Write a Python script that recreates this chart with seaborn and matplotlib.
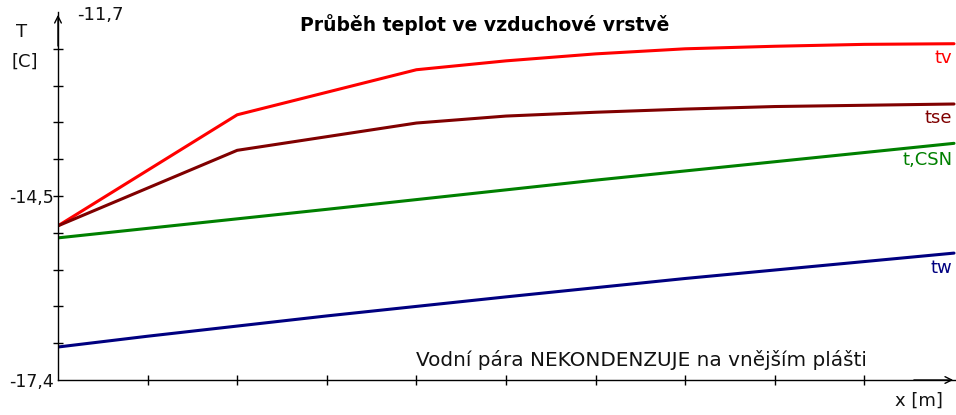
import matplotlib
matplotlib.use("Agg")
import matplotlib.pyplot as plt
import seaborn as sns
import pandas as pd

# ---- data ----
tv_x = [0, 2, 4, 5, 6, 7, 8, 9, 10]
tv_y = [-14.97, -13.22, -12.51, -12.37, -12.26, -12.18, -12.14, -12.11, -12.10]

tse_x = [0, 2, 4, 5, 6, 7, 8, 9, 10]
tse_y = [-14.97, -13.78, -13.35, -13.24, -13.18, -13.13, -13.09, -13.07, -13.05]

tcsn_x = [0, 3, 6, 10]
tcsn_y = [-15.16, -14.71, -14.25, -13.67]

tw_x = [0, 1, 3, 5, 7, 10]
tw_y = [-16.88, -16.71, -16.39, -16.09, -15.80, -15.40]

series_names = ["tv", "tse", "t,CSN", "tw"]
series_colors = ["#ff0000", "#800000", "#008000", "#000080"]

y_min, y_max = -17.4, -11.7
y_step = 0.58
y_tick_labels = {0: "-17,4", 5: "-14,5"}

title = "Průběh teplot ve vzduchové vrstvě"
note = "Vodní pára NEKONDENZUJE na vnějším plášti"
x_label = "x [m]"
y_label_1 = "T"
y_label_2 = "[C]"
y_top_label = "-11,7"

# ---- build table ----
frames = []
for name, xs, ys in zip(series_names,
                        [tv_x, tse_x, tcsn_x, tw_x],
                        [tv_y, tse_y, tcsn_y, tw_y]):
    frames.append(pd.DataFrame({"x": xs, "T": ys, "series": name}))
df = pd.concat(frames, ignore_index=True)

sns.set_theme(style="white")
plt.rcParams["font.family"] = ["DejaVu Sans"]

FS = 13
TXT = "#111111"

W, H = 956, 415
fig = plt.figure(figsize=(W / 100, H / 100), dpi=100)
fig.patch.set_facecolor("white")

ax_left, ax_right = 58, 956
ax_bottom, ax_top = 380, 12
ax = fig.add_axes([ax_left / W, 1 - ax_bottom / H,
                   (ax_right - ax_left) / W, (ax_bottom - ax_top) / H])
ax.set_facecolor("white")

palette = dict(zip(series_names, series_colors))
sns.lineplot(data=df, x="x", y="T", hue="series", palette=palette,
             estimator=None, sort=True, linewidth=2.2, legend=False, ax=ax)

# scales: x from 0 to 10 ticks (span 896 px for 10 units)
x_per_px = 10 / (954 - 58)
ax.set_xlim(0, (ax_right - ax_left) * x_per_px)
T_per_px = (-14.5 - y_min) / (380 - 196)
ax.set_ylim(y_min, y_min + (ax_bottom - ax_top) * T_per_px)

for s in ["top", "right"]:
    ax.spines[s].set_visible(False)
for s in ["left", "bottom"]:
    ax.spines[s].set_color("black")
    ax.spines[s].set_linewidth(1.0)

yt = [y_min + k * y_step for k in range(10)]
ax.set_yticks(yt)
ax.set_yticklabels([y_tick_labels.get(k, "") for k in range(10)])
ax.set_xticks(list(range(1, 10)))
ax.set_xticklabels([])
ax.tick_params(axis="both", direction="inout", length=6.5, width=1.0,
               color="black", labelsize=FS - 0.5, pad=0, labelcolor=TXT,
               left=True, bottom=True)
ax.yaxis.get_major_ticks()[0].tick1line.set_visible(False)
ax.set_xlabel("")
ax.set_ylabel("")

# axis arrows
ax.annotate("", xy=(0, 1.0), xytext=(0, 0.9), xycoords="axes fraction",
            arrowprops=dict(arrowstyle="->", color="black", lw=1.0,
                            mutation_scale=12))
ax.annotate("", xy=(1.0, 0), xytext=(0.95, 0), xycoords="axes fraction",
            arrowprops=dict(arrowstyle="->", color="black", lw=1.0,
                            mutation_scale=12))

# series labels
lab_pos = {"tv": -12.33, "tse": -13.27, "t,CSN": -13.93, "tw": -15.63}
for name, col in zip(series_names, series_colors):
    ax.text(9.98, lab_pos[name], name, color=col, fontsize=FS,
            ha="right", va="center")

ax.text(4.0, -17.09, note, fontsize=FS + 1.4, ha="left", va="center",
        color=TXT)
ax.text(9.88, -17.72, x_label, fontsize=FS, ha="right", va="center",
        color=TXT, clip_on=False)

fig.text(22 / W, 1 - 32 / H, y_label_1, fontsize=FS, ha="center",
         va="center", color=TXT)
fig.text(25 / W, 1 - 62 / H, y_label_2, fontsize=FS, ha="center",
         va="center", color=TXT)
fig.text(77 / W, 1 - 15 / H, y_top_label, fontsize=FS, ha="left",
         va="center", color=TXT)
fig.text(485 / W, 1 - 25 / H, title, fontsize=FS + 0.5, fontweight="bold",
         ha="center", va="center", color="black")

fig.savefig("out.png", dpi=100, facecolor="white")
